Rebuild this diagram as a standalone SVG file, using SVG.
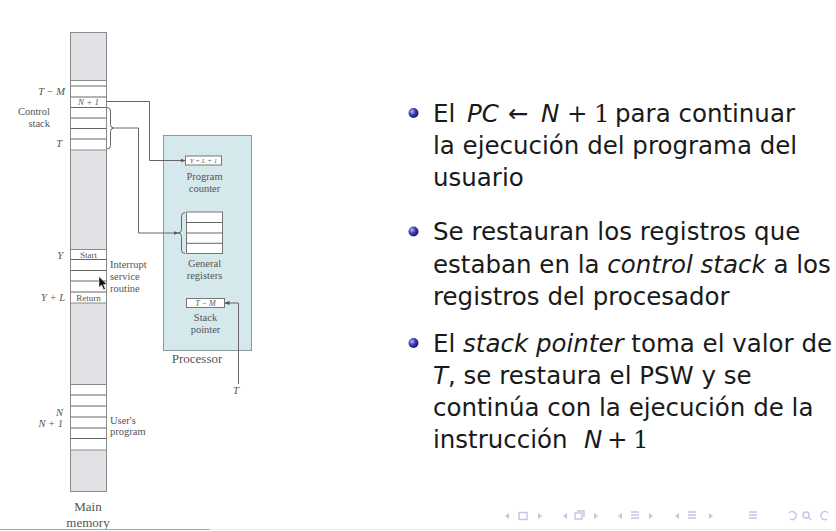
<svg xmlns="http://www.w3.org/2000/svg" width="836" height="531" viewBox="0 0 836 531">
  <defs>
    <marker id="arrow" viewBox="0 0 10 10" refX="9" refY="5" markerWidth="5" markerHeight="5" orient="auto">
      <path d="M0,1 L10,5 L0,9 z" fill="#555"/>
    </marker>
    <radialGradient id="ball" cx="0.35" cy="0.35" r="0.7">
      <stop offset="0" stop-color="#b8b8ff"/>
      <stop offset="0.5" stop-color="#3b3bb0"/>
      <stop offset="1" stop-color="#161660"/>
    </radialGradient>
    <style>
      .lbl { font-family: "Liberation Serif", "DejaVu Serif", serif; font-size: 10.5px; fill: #555; }
      .big { font-family: "Liberation Serif", "DejaVu Serif", serif; font-size: 13px; fill: #555; }
      .cell { font-family: "Liberation Serif", "DejaVu Serif", serif; font-size: 9px; fill: #555; }
      .math { font-style: italic; }
      .mem { fill: #e2e2e6; stroke: #8a8a8a; stroke-width: 1; }
      .row { fill: #ffffff; stroke: #8a8a8a; stroke-width: 1; }
      .reg { fill: #ffffff; stroke: #777; stroke-width: 1; }
      .wire { fill: none; stroke: #666; stroke-width: 1; }
      .txt { font-family: "DejaVu Sans", "Liberation Sans", sans-serif; font-size: 24.5px; fill: #1a1a1a; }
      .it { font-style: italic; }
      .num { font-family: "DejaVu Serif", "Liberation Serif", serif; font-style: normal; }
      .nav { fill: none; stroke: #c4c4e6; stroke-width: 1.4; }
      .navf { fill: #c4c4e6; }
    </style>
  </defs>

  <rect width="836" height="531" fill="#ffffff"/>

  <!-- Main memory column -->
  <g id="main-memory">
    <rect class="mem" x="70.5" y="32.5" width="36" height="459"/>
    <!-- control stack rows -->
    <rect class="row" x="70.5" y="80.5" width="36" height="69.5"/>
    <path class="wire" d="M70.5,86 H106.5 M70.5,97 H106.5 M70.5,107.5 H106.5 M70.5,118 H106.5 M70.5,128.5 H106.5 M70.5,139 H106.5"/>
    <text class="cell math" x="88.5" y="105" text-anchor="middle">N + 1</text>
    <!-- interrupt service routine rows -->
    <rect class="row" x="70.5" y="249.5" width="36" height="53.5"/>
    <path class="wire" d="M70.5,259.5 H106.5 M70.5,270.5 H106.5 M70.5,281 H106.5 M70.5,292 H106.5"/>
    <text class="cell" x="88.5" y="257.5" text-anchor="middle">Start</text>
    <text class="cell" x="88.5" y="300.5" text-anchor="middle">Return</text>
    <!-- user's program rows -->
    <rect class="row" x="70.5" y="384.5" width="36" height="65.5"/>
    <path class="wire" d="M70.5,395 H106.5 M70.5,406 H106.5 M70.5,417 H106.5 M70.5,428 H106.5 M70.5,438.5 H106.5"/>
    <!-- left labels -->
    <text class="lbl math" x="65" y="94.5" text-anchor="end">T − M</text>
    <text class="lbl" x="50" y="114.5" text-anchor="end">Control</text>
    <text class="lbl" x="50" y="126.5" text-anchor="end">stack</text>
    <text class="lbl math" x="62" y="147" text-anchor="end">T</text>
    <text class="lbl math" x="63" y="258.5" text-anchor="end">Y</text>
    <text class="lbl math" x="65" y="301" text-anchor="end">Y + L</text>
    <text class="lbl math" x="63" y="416" text-anchor="end">N</text>
    <text class="lbl math" x="63" y="427" text-anchor="end">N + 1</text>
    <!-- right labels -->
    <text class="lbl" x="110" y="268">Interrupt</text>
    <text class="lbl" x="110" y="280">service</text>
    <text class="lbl" x="110" y="292">routine</text>
    <text class="lbl" x="110" y="424">User's</text>
    <text class="lbl" x="110" y="435">program</text>
    <text class="big" x="88" y="511" text-anchor="middle">Main</text>
    <text class="big" x="88" y="527" text-anchor="middle">memory</text>
  </g>

  <!-- Processor -->
  <g id="processor">
    <rect x="163.5" y="135.5" width="88" height="215" fill="#d5e8eb" stroke="#8a9a9c" stroke-width="1"/>
    <text class="big" x="197" y="363" text-anchor="middle">Processor</text>
  </g>

  <g id="program-counter">
    <rect class="reg" x="185.5" y="156" width="36" height="9"/>
    <text class="math" x="203.5" y="163.3" text-anchor="middle" font-family="Liberation Serif, serif" font-size="7" fill="#666">Y + L + 1</text>
    <text class="lbl" x="204.5" y="180" text-anchor="middle">Program</text>
    <text class="lbl" x="204.5" y="192" text-anchor="middle">counter</text>
  </g>

  <g id="general-registers">
    <rect class="reg" x="186.5" y="212" width="36" height="41.5"/>
    <path class="wire" d="M186.5,222.5 H222.5 M186.5,233 H222.5 M186.5,243.3 H222.5"/>
    <path class="wire" d="M185,212.5 q-3.5,0 -3.5,3.5 v13.5 q0,3.5 -3.5,3.5 q3.5,0 3.5,3.5 v13.5 q0,3.5 3.5,3.5"/>
    <text class="lbl" x="204.5" y="267" text-anchor="middle">General</text>
    <text class="lbl" x="204.5" y="278.5" text-anchor="middle">registers</text>
  </g>

  <g id="stack-pointer">
    <rect class="reg" x="186.5" y="298.5" width="38" height="9"/>
    <text class="math" x="205.5" y="306" text-anchor="middle" font-family="Liberation Serif, serif" font-size="8" fill="#555">T − M</text>
    <text class="lbl" x="205.5" y="321" text-anchor="middle">Stack</text>
    <text class="lbl" x="205.5" y="333" text-anchor="middle">pointer</text>
  </g>

  <!-- Connectors -->
  <g id="connectors">
    <path class="wire" d="M107,107.5 q3.5,0 3.5,3.5 v13.5 q0,3.5 3.5,3.5 q-3.5,0 -3.5,3.5 v14 q0,3.5 -3.5,3.5"/>
    <path class="wire" d="M106.5,101.5 H149.5 V160.5 H185" marker-end="url(#arrow)"/>
    <path class="wire" d="M114.5,128 H138.5 V233 H178" marker-end="url(#arrow)"/>
    <path class="wire" d="M238.5,384 V303 H225" marker-end="url(#arrow)"/>
    <text class="lbl math" x="236" y="394" text-anchor="middle">T</text>
  </g>

  <!-- Mouse pointer -->
  <path d="M99,276.5 v11 l2.6,-2.4 l2,4.6 l1.8,-0.8 l-2,-4.4 l3.6,0 z" fill="#111" stroke="#fff" stroke-width="0.5"/>

  <!-- Bullet list -->
  <g id="bullets">
    <circle cx="413.5" cy="113" r="5" fill="url(#ball)"/>
    <text class="txt" y="121.7"><tspan x="433">El</tspan><tspan class="it" x="467">PC</tspan><tspan x="508">←</tspan><tspan class="it" x="541">N</tspan><tspan class="num" x="567">+</tspan><tspan class="num" x="594">1</tspan><tspan x="615">para continuar</tspan></text>
    <text class="txt" x="433" y="154">la ejecución del programa del</text>
    <text class="txt" x="433" y="186">usuario</text>

    <circle cx="413.5" cy="231.5" r="5" fill="url(#ball)"/>
    <text class="txt" x="433" y="240">Se restauran los registros que</text>
    <text class="txt" x="433" y="272.5">estaban en la <tspan class="it">control stack</tspan> a los</text>
    <text class="txt" x="433" y="304.5">registros del procesador</text>

    <circle cx="413.5" cy="343" r="5" fill="url(#ball)"/>
    <text class="txt" x="433" y="351.7">El <tspan class="it">stack pointer</tspan> toma el valor de</text>
    <text class="txt" x="433" y="384"><tspan class="it">T</tspan>, se restaura el PSW y se</text>
    <text class="txt" x="433" y="416">continúa con la ejecución de la</text>
    <text class="txt" y="448"><tspan x="433">instrucción</tspan><tspan class="it" x="584">N</tspan><tspan class="num" x="607">+</tspan><tspan class="num" x="633">1</tspan></text>
  </g>

  <!-- Navigation symbols -->
  <g id="navigation">
    <path class="navf" d="M509,513 l-4,3 l4,3 z M538,513 l4,3 l-4,3 z"/>
    <rect class="nav" x="519" y="512.5" width="8" height="7"/>
    <path class="navf" d="M567,513 l-4,3 l4,3 z M594,513 l4,3 l-4,3 z"/>
    <path class="nav" d="M575,513 h7 v6 h-7 z M577,511 h7 v6"/>
    <path class="navf" d="M622,513 l-4,3 l4,3 z M649,513 l4,3 l-4,3 z"/>
    <path class="nav" d="M631,512 h8 M631,515 h8 M631,518 h8"/>
    <path class="navf" d="M679,513 l-4,3 l4,3 z M709,513 l4,3 l-4,3 z"/>
    <path class="nav" d="M688,512 h8 M688,515 h8 M688,518 h8"/>
    <path class="nav" d="M749,512 h8 M749,515 h8 M749,518 h8"/>
    <path class="nav" d="M789,513 a4,4 0 1 1 1,6"/>
    <circle class="nav" cx="806" cy="515" r="3"/>
    <path class="nav" d="M808,517 l3,3"/>
    <path class="nav" d="M828,513 a4,4 0 1 0 -1,6"/>
  </g>

  <!-- Frame edge -->
  <path d="M0,529.5 H210" stroke="#e98a8a" stroke-width="1.2"/>
  <path d="M210,529.5 H836" stroke="#ececf2" stroke-width="1"/>
</svg>
